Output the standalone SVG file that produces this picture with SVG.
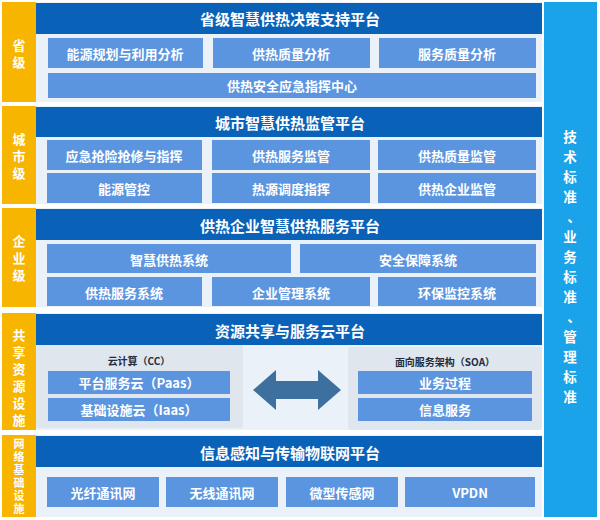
<svg xmlns="http://www.w3.org/2000/svg" width="600" height="520" viewBox="0 0 600 520">
<style>
text{font-family:"Noto Sans CJK SC","Noto Sans",sans-serif;font-weight:bold;text-anchor:middle;dominant-baseline:central}
.side{fill:#f7b500}
.sidet{fill:#fff;font-size:13px}
.sm{font-size:11px}
.rt{fill:#fff;font-size:13.5px}
.band{fill:#eaf1f8}
.hdr{fill:#0a62b8}
.hdrt{fill:#fff;font-size:15px}
.box{fill:#5b95e0}
.boxt{fill:#fff;font-size:13px}
.pan{fill:#dfe6ee}
.pant{fill:#1f2d3d;font-size:10px}
</style>
<rect x="0" y="0" width="600" height="520" fill="#fff"/>
<g id="right">
<rect x="544" y="2" width="53" height="515" fill="#1aa3e8"/>
<text class="rt" x="570" y="136">技</text><text class="rt" x="570" y="156">术</text><text class="rt" x="570" y="176">标</text><text class="rt" x="570" y="196">准</text><text class="rt" x="574" y="216">、</text><text class="rt" x="570" y="236">业</text><text class="rt" x="570" y="256">务</text><text class="rt" x="570" y="276">标</text><text class="rt" x="570" y="296">准</text><text class="rt" x="574" y="316">、</text><text class="rt" x="570" y="336">管</text><text class="rt" x="570" y="356">理</text><text class="rt" x="570" y="376">标</text><text class="rt" x="570" y="396">准</text>
</g>
<g id="l1">
<rect class="band" x="36" y="2" width="506" height="100"/>
<rect class="side" x="2" y="2" width="34" height="100"/>
<text class="sidet" x="19" y="44">省</text><text class="sidet" x="19" y="61">级</text>
<rect class="hdr" x="36" y="3" width="506" height="31"/>
<text class="hdrt" x="290" y="18">省级智慧供热决策支持平台</text>
<rect class="box" x="48" y="38" width="155" height="30"/><text class="boxt" x="125" y="53">能源规划与利用分析</text>
<rect class="box" x="213" y="38" width="157" height="30"/><text class="boxt" x="291" y="53">供热质量分析</text>
<rect class="box" x="379" y="38" width="157" height="30"/><text class="boxt" x="457" y="53">服务质量分析</text>
<rect class="box" x="48" y="73" width="488" height="25"/><text class="boxt" x="292" y="85">供热安全应急指挥中心</text>
</g>
<g id="l2">
<rect class="band" x="36" y="106" width="506" height="98"/>
<rect class="side" x="2" y="106" width="34" height="98"/>
<text class="sidet" x="19" y="138">城</text><text class="sidet" x="19" y="155">市</text><text class="sidet" x="19" y="172">级</text>
<rect class="hdr" x="36" y="107" width="506" height="30"/>
<text class="hdrt" x="290" y="122">城市智慧供热监管平台</text>
<rect class="box" x="47" y="140" width="155" height="30"/><text class="boxt" x="124" y="155">应急抢险抢修与指挥</text>
<rect class="box" x="212" y="140" width="158" height="30"/><text class="boxt" x="291" y="155">供热服务监管</text>
<rect class="box" x="378" y="140" width="158" height="30"/><text class="boxt" x="457" y="155">供热质量监管</text>
<rect class="box" x="47" y="173" width="155" height="30"/><text class="boxt" x="124" y="188">能源管控</text>
<rect class="box" x="212" y="173" width="158" height="30"/><text class="boxt" x="291" y="188">热源调度指挥</text>
<rect class="box" x="378" y="173" width="158" height="30"/><text class="boxt" x="457" y="188">供热企业监管</text>
</g>
<g id="l3">
<rect class="band" x="36" y="208" width="506" height="99"/>
<rect class="side" x="2" y="208" width="34" height="99"/>
<text class="sidet" x="19" y="240">企</text><text class="sidet" x="19" y="257">业</text><text class="sidet" x="19" y="274">级</text>
<rect class="hdr" x="36" y="209" width="506" height="31"/>
<text class="hdrt" x="290" y="225">供热企业智慧供热服务平台</text>
<rect class="box" x="47" y="244" width="244" height="29"/><text class="boxt" x="169" y="259">智慧供热系统</text>
<rect class="box" x="300" y="244" width="236" height="29"/><text class="boxt" x="418" y="259">安全保障系统</text>
<rect class="box" x="47" y="277" width="155" height="29"/><text class="boxt" x="124" y="292">供热服务系统</text>
<rect class="box" x="212" y="277" width="158" height="29"/><text class="boxt" x="291" y="292">企业管理系统</text>
<rect class="box" x="378" y="277" width="158" height="29"/><text class="boxt" x="457" y="292">环保监控系统</text>
</g>
<g id="l4">
<rect class="band" x="36" y="313" width="506" height="117"/>
<rect class="side" x="2" y="313" width="34" height="117"/>
<text class="sidet" x="19" y="334">共</text><text class="sidet" x="19" y="351">享</text><text class="sidet" x="19" y="368">资</text><text class="sidet" x="19" y="385">源</text><text class="sidet" x="19" y="402">设</text><text class="sidet" x="19" y="419">施</text>
<rect class="hdr" x="36" y="314" width="506" height="31"/>
<text class="hdrt" x="290" y="330">资源共享与服务云平台</text>
<rect class="pan" x="36" y="345" width="207" height="83" rx="3"/>
<text class="pant" x="139" y="360">云计算（CC）</text>
<rect class="box" x="48" y="371" width="182" height="23"/><text class="boxt" x="139" y="382">平台服务云（Paas）</text>
<rect class="box" x="48" y="398" width="182" height="23"/><text class="boxt" x="139" y="409">基础设施云（Iaas）</text>
<rect class="pan" x="348" y="347" width="194" height="83" rx="3"/>
<text class="pant" x="445" y="361">面向服务架构（SOA）</text>
<rect class="box" x="358" y="371" width="174" height="23"/><text class="boxt" x="445" y="382">业务过程</text>
<rect class="box" x="358" y="398" width="174" height="23"/><text class="boxt" x="445" y="409">信息服务</text>
</g>
<g id="connectors">
<polygon points="253,390 276,370 276,381 318,381 318,370 341,390 318,410 318,399 276,399 276,410" fill="#3d6f9f"/>
</g>
<g id="l5">
<rect class="band" x="36" y="435" width="506" height="82"/>
<rect class="side" x="2" y="435" width="34" height="82"/>
<text class="sidet sm" x="19" y="443">网</text><text class="sidet sm" x="19" y="456">络</text><text class="sidet sm" x="19" y="469">基</text><text class="sidet sm" x="19" y="482">础</text><text class="sidet sm" x="19" y="495">设</text><text class="sidet sm" x="19" y="508">施</text>
<rect class="hdr" x="36" y="436" width="506" height="31"/>
<text class="hdrt" x="290" y="452">信息感知与传输物联网平台</text>
<rect class="box" x="47" y="477" width="112" height="30"/><text class="boxt" x="103" y="492">光纤通讯网</text>
<rect class="box" x="166" y="477" width="112" height="30"/><text class="boxt" x="222" y="492">无线通讯网</text>
<rect class="box" x="286" y="477" width="112" height="30"/><text class="boxt" x="342" y="492">微型传感网</text>
<rect class="box" x="405" y="477" width="130" height="30"/><text class="boxt" x="470" y="492">VPDN</text>
</g>
</svg>
